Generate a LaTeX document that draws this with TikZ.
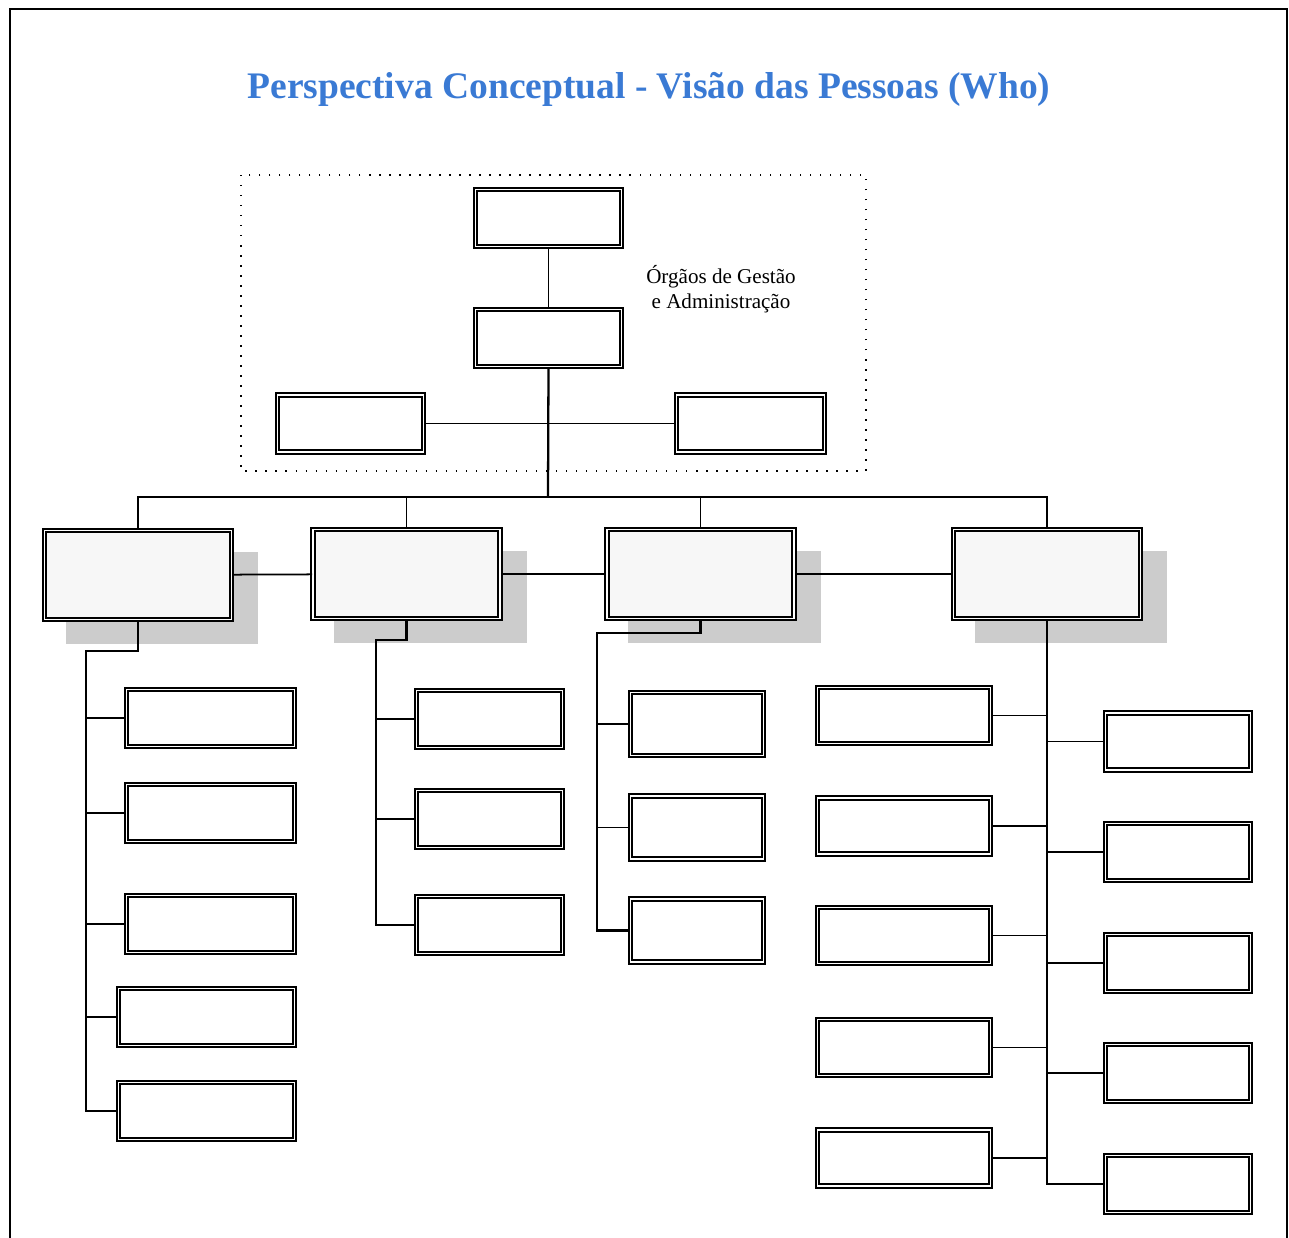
\documentclass[tikz,border=0pt]{standalone}
\usepackage{fontspec}
\setmainfont{Liberation Serif}
\usetikzlibrary{shadows,positioning}
\definecolor{titleblue}{RGB}{58,122,212}
\tikzstyle{orgbox} = [rectangle, draw=black, line width=1.05pt, double=white, double distance=0.8pt, inner sep=0pt, minimum width=2.92cm, minimum height=1.14cm]
\tikzstyle{unitbox} = [orgbox, fill=black!3, minimum width=3.74cm, minimum height=1.78cm, drop shadow={shadow xshift=0.47cm, shadow yshift=-0.45cm, shadow scale=1.03, fill=black!20, opacity=1}]
\tikzstyle{line} = [line width=1pt]
\tikzstyle{trunk} = [line width=1.3pt]
\tikzstyle{dotframe} = [line width=0.8pt, dash pattern=on 0.8pt off 4.9pt]

\begin{document}
\begin{tikzpicture}[x=0.02cm, y=-0.02cm]
\useasboundingbox (0,0) rectangle (1289,1238);
\draw [line width=1.1pt] (10,1260) -- (10,9) -- (1287,9) -- (1287,1260);

\node (title) at (649,89) {\fontsize{21.35pt}{25pt}\selectfont\bfseries\color{titleblue}Perspectiva Conceptual - Visão das Pessoas (Who)};

% management
\draw [dotframe] (241,175) rectangle (866,471);
\node (board) [orgbox] at (548.5,218) {};
\node (direction) [orgbox] at (548.5,338) {};
\node (staffL) [orgbox] at (350.5,423.5) {};
\node (staffR) [orgbox, minimum width=2.96cm] at (750.5,423.5) {};
\node (mgmt) [align=center, font=\fontsize{12pt}{14.2pt}\selectfont] at (721,289) {Órgãos de Gestão\\e Administração};
\coordinate (bus) at (548,497);

% units
\node (unit1) [unitbox] at (138,575) {};
\node (unit2) [unitbox] at (406.5,574) {};
\node (unit3) [unitbox] at (700.5,574) {};
\node (unit4) [unitbox] at (1047,574) {};

% first column
\node (u1a) [orgbox, minimum width=3.36cm] at (210.5,718) {};
\node (u1b) [orgbox, minimum width=3.36cm] at (210.5,813) {};
\node (u1c) [orgbox, minimum width=3.36cm] at (210.5,924) {};
\node (u1d) [orgbox, minimum width=3.52cm] at (206.5,1017) {};
\node (u1e) [orgbox, minimum width=3.52cm] at (206.5,1111) {};
\coordinate (t1) at (86,651);

% second column
\node (u2a) [orgbox] at (489.5,719) {};
\node (u2b) [orgbox] at (489.5,819) {};
\node (u2c) [orgbox] at (489.5,925) {};
\coordinate (t2) at (376,640);

% third column
\node (u3a) [orgbox, minimum width=2.66cm, minimum height=1.26cm] at (697,724) {};
\node (u3b) [orgbox, minimum width=2.66cm, minimum height=1.26cm] at (697,827.5) {};
\node (u3c) [orgbox, minimum width=2.66cm, minimum height=1.26cm] at (697,930.5) {};
\coordinate (t3) at (597,633);

% fourth column
\node (u4a) [orgbox, minimum width=3.46cm, minimum height=1.12cm] at (904,715.5) {};
\node (u4b) [orgbox, minimum width=3.46cm, minimum height=1.12cm] at (904,826) {};
\node (u4c) [orgbox, minimum width=3.46cm, minimum height=1.12cm] at (904,935.5) {};
\node (u4d) [orgbox, minimum width=3.46cm, minimum height=1.12cm] at (904,1047.5) {};
\node (u4e) [orgbox, minimum width=3.46cm, minimum height=1.12cm] at (904,1158) {};
\node (u4f) [orgbox, minimum width=2.9cm] at (1178,741.5) {};
\node (u4g) [orgbox, minimum width=2.9cm] at (1178,852) {};
\node (u4h) [orgbox, minimum width=2.9cm] at (1178,963) {};
\node (u4i) [orgbox, minimum width=2.9cm] at (1178,1073) {};
\node (u4j) [orgbox, minimum width=2.9cm] at (1178,1184) {};

% links
\draw [line] (board) -- (direction);
\draw [trunk] (direction.south) -- (bus);
\draw [line] (staffL) -- (staffR);
\draw [line] (unit1.north) -- (unit1.north |- bus) -- (unit4.north |- bus) -- (unit4.north);
\draw [line] (unit2.north |- bus) -- (unit2.north);
\draw [line] (unit3.north |- bus) -- (unit3.north);
\draw [line] (unit1) -- (unit2);
\draw [line] (unit2) -- (unit3);
\draw [line] (unit3) -- (unit4);
%
\draw [trunk] (unit1.south) |- (t1) |- (u1e.west);
\draw [line] (t1 |- u1a.west) -- (u1a.west);
\draw [line] (t1 |- u1b.west) -- (u1b.west);
\draw [line] (t1 |- u1c.west) -- (u1c.west);
\draw [line] (t1 |- u1d.west) -- (u1d.west);
%
\draw [trunk] (unit2.south) |- (t2) |- (u2c.west);
\draw [line] (t2 |- u2a.west) -- (u2a.west);
\draw [line] (t2 |- u2b.west) -- (u2b.west);
%
\draw [trunk] (unit3.south) |- (t3) |- (u3c.west);
\draw [line] (t3 |- u3a.west) -- (u3a.west);
\draw [line] (t3 |- u3b.west) -- (u3b.west);
%
\draw [trunk] (unit4.south) |- (u4j.west);
\draw [line] (u4a.east) -- (u4a.east -| unit4.south);
\draw [line] (u4b.east) -- (u4b.east -| unit4.south);
\draw [line] (u4c.east) -- (u4c.east -| unit4.south);
\draw [line] (u4d.east) -- (u4d.east -| unit4.south);
\draw [line] (u4e.east) -- (u4e.east -| unit4.south);
\draw [line] (u4f.west) -- (u4f.west -| unit4.south);
\draw [line] (u4g.west) -- (u4g.west -| unit4.south);
\draw [line] (u4h.west) -- (u4h.west -| unit4.south);
\draw [line] (u4i.west) -- (u4i.west -| unit4.south);

\end{tikzpicture}
\end{document}
